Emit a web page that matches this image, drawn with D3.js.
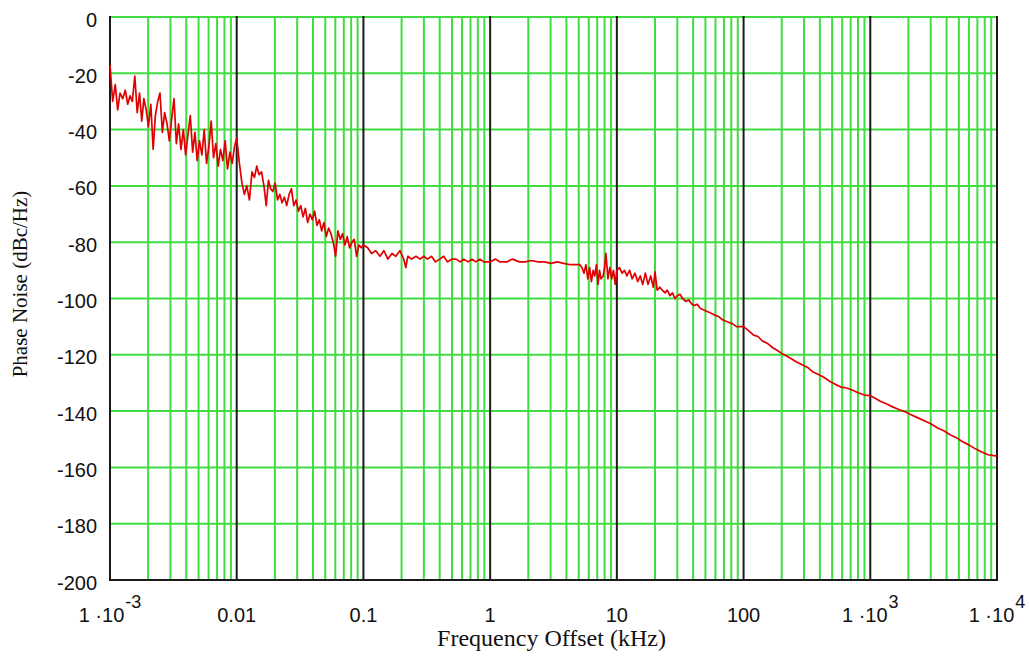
<!DOCTYPE html>
<html>
<head>
<meta charset="utf-8">
<script src="https://cdn.jsdelivr.net/npm/d3@7"></script>
<style>
  html, body { margin: 0; padding: 0; background: #ffffff; }
  svg { display: block; }
</style>
</head>
<body>
<svg id="chart" width="1029" height="656"></svg>
<script>
// ---------------- data ----------------
const freqKHz = [
  0.001, 0.00105, 0.0011, 0.00115, 0.0012, 0.00126, 0.00132, 0.00138, 0.00144, 0.0015,
  0.00157, 0.00164, 0.00171, 0.00178, 0.00185, 0.00193, 0.00201, 0.0021, 0.00219, 0.00228,
  0.00238, 0.00248, 0.00259, 0.0027, 0.00282, 0.00294, 0.00307, 0.0032, 0.00334, 0.00348,
  0.00363, 0.00379, 0.00395, 0.00412, 0.0043, 0.00449, 0.00468, 0.00488, 0.00509, 0.00531,
  0.00554, 0.00578, 0.00603, 0.00629, 0.00656, 0.00684, 0.00714, 0.00745, 0.00777, 0.00811,
  0.00846, 0.00883, 0.00921, 0.00961,
  0.01, 0.0105, 0.011, 0.0115, 0.012, 0.0126, 0.0132, 0.0138, 0.0144, 0.015,
  0.0157, 0.0164, 0.0171, 0.0178, 0.0185, 0.0193, 0.0201, 0.021, 0.0219, 0.0228,
  0.0238, 0.0248, 0.0259, 0.027, 0.0282, 0.0294, 0.0307, 0.032, 0.0334, 0.0348,
  0.0363, 0.0379, 0.0395, 0.0412, 0.043, 0.0449, 0.0468, 0.0488, 0.0509, 0.0531,
  0.0554, 0.0578, 0.0603, 0.0629, 0.0656, 0.0684, 0.0714, 0.0745, 0.0777, 0.0811,
  0.0846, 0.0883, 0.0921, 0.0961,
  0.1, 0.108, 0.116, 0.125, 0.135, 0.145, 0.156, 0.168, 0.18, 0.194,
  0.208, 0.216, 0.224, 0.24, 0.26, 0.28, 0.3, 0.32, 0.345, 0.37,
  0.4, 0.43, 0.46, 0.5, 0.54, 0.58, 0.62, 0.67, 0.72, 0.77,
  0.83, 0.89, 0.95,
  1, 1.1, 1.2, 1.35, 1.5, 1.7, 1.9, 2.1, 2.4, 2.7,
  3.0, 3.4, 3.8, 4.3, 4.8, 5.1, 5.3, 5.5, 5.7, 5.9,
  6.1, 6.3, 6.5, 6.7, 6.9, 7.1, 7.3, 7.5, 7.8, 8.0,
  8.2, 8.5, 8.8, 9.1, 9.4, 9.7,
  10, 10.5, 11, 11.5, 12, 12.6, 13.2, 13.9, 14.6, 15.3,
  16, 16.8, 17.6, 18.5, 19.4, 20, 20.8, 21.8, 22.8, 24,
  25, 26.2, 27.5, 28.7, 30, 31.5, 33, 35, 37, 39,
  41, 43, 45.5, 48, 51, 54, 57, 60, 64, 68,
  72, 77, 82, 88, 94,
  100, 110, 120, 130, 140, 155, 170, 185, 200, 220,
  240, 260, 290, 320, 350, 390, 430, 480, 530, 590,
  650, 720, 800, 900,
  1000, 1100, 1200, 1350, 1500, 1700, 1900, 2100, 2400, 2700,
  3000, 3400, 3800, 4300, 4800, 5400, 6000, 6800, 7600, 8500,
  10000
];

const phaseNoise = [
  -17, -30, -24, -33, -27, -29, -26, -31, -28, -30,
  -21, -34, -27, -37, -29, -33, -39, -31, -47, -35,
  -30, -27, -41, -34, -38, -44, -36, -29, -45, -38,
  -47, -40, -49, -42, -35, -48, -41, -51, -44, -49,
  -40, -52, -46, -37, -50, -45, -53, -47, -51, -44,
  -54, -48, -52, -46,
  -43, -52, -59, -63, -60, -65, -55, -57, -53, -56,
  -55, -60, -67, -58, -61, -62, -59, -65, -63, -66,
  -64, -67, -63, -61, -67, -65, -69, -67, -71, -68,
  -73, -70, -72, -69, -74, -72, -76, -73, -78, -75,
  -77, -80, -85, -76, -79, -77, -81, -78, -82, -80,
  -79, -85, -81, -82,
  -81, -82, -84, -83, -85, -83, -86, -84, -85, -83,
  -86, -89, -85, -86, -85, -86, -85, -86, -85, -87,
  -86, -85, -87, -86, -86, -87, -86, -87, -86, -87,
  -86, -87, -87,
  -87, -86, -87, -87, -86, -87, -87, -86.5, -87, -87,
  -87.5, -87, -87.5, -88, -88, -88, -89, -91, -88, -93,
  -89, -94, -90, -92, -88, -95, -90, -93, -92, -89,
  -84, -93, -89, -93, -90, -95,
  -90, -89, -91, -90, -92, -90, -93, -91, -94, -92,
  -95, -91, -95, -92, -96, -90.5, -97, -96, -97, -98,
  -97, -99, -98, -100, -99, -98.5, -100, -101, -100.5, -102,
  -102.5, -102, -103.5, -104, -104.5, -105, -105.5, -106, -106.5, -107.5,
  -108, -108.5, -109, -110, -110,
  -110, -111.5, -113, -113.5, -115, -116, -117.5, -118.5, -119.5, -120.5,
  -121.5, -122.5, -123.5, -124.5, -126, -127, -128, -129.5, -130.5, -131.5,
  -131.8, -132.5, -133.5, -134.3,
  -134.5, -135.5, -136.5, -137.5, -138.5, -139.5, -140.3, -141.3, -142.5, -143.5,
  -144.5, -146, -147, -148.5, -149.5, -151, -152, -153.5, -154.5, -155.5,
  -156
];

const yTickValues = [0, -20, -40, -60, -80, -100, -120, -140, -160, -180, -200];
const xTickValues = [0.001, 0.01, 0.1, 1, 10, 100, 1000, 10000];
const xTickText   = ["1 \u00B710", "0.01", "0.1", "1", "10", "100", "1 \u00B710", "1 \u00B710"];
const xTickExp    = ["-3", "", "", "", "", "", "3", "4"];
const xTitle = "Frequency Offset (kHz)";
const yTitle = "Phase Noise (dBc/Hz)";

// ---------------- layout ----------------
const pLeft = 110, pRight = 997, pTop = 17, pBottom = 580;
const GREEN = "#40dc40";
const BLACK = "#1a1a1a";

const svg = d3.select("#chart");
const x = d3.scaleLog().domain([1e-3, 1e4]).range([pLeft, pRight]);
const y = d3.scaleLinear().domain([-200, 0]).range([pBottom, pTop]);

// minor vertical grid (2..9 per decade)
const minorX = [];
xTickValues.slice(0, -1).forEach(d => { for (let m = 2; m <= 9; m++) minorX.push(d * m); });

const grid = svg.append("g");
grid.selectAll("line.vminor").data(minorX).join("line")
  .attr("x1", d => x(d)).attr("x2", d => x(d))
  .attr("y1", pTop).attr("y2", pBottom)
  .attr("stroke", GREEN).attr("stroke-width", 2);

grid.selectAll("line.h").data(yTickValues.filter(v => v !== -200)).join("line")
  .attr("x1", pLeft).attr("x2", pRight)
  .attr("y1", d => y(d)).attr("y2", d => y(d))
  .attr("stroke", GREEN).attr("stroke-width", 2);

// decade lines + bottom border (black)
const major = svg.append("g");
major.selectAll("line").data(xTickValues).join("line")
  .attr("x1", d => x(d)).attr("x2", d => x(d))
  .attr("y1", pTop - 1).attr("y2", pBottom + 1)
  .attr("stroke", BLACK).attr("stroke-width", 2);
major.append("line")
  .attr("x1", pLeft - 1).attr("x2", pRight + 1)
  .attr("y1", y(-200)).attr("y2", y(-200))
  .attr("stroke", BLACK).attr("stroke-width", 2);

// data line
const pts = freqKHz.map((f, i) => [f, phaseNoise[i]]);
svg.append("path")
  .datum(pts)
  .attr("fill", "none")
  .attr("stroke", "#e00000")
  .attr("stroke-width", 1.7)
  .attr("stroke-linejoin", "round")
  .attr("d", d3.line().x(d => x(d[0])).y(d => y(d[1])));

// y tick labels
const yAxis = svg.append("g")
  .attr("transform", `translate(${pLeft},0)`)
  .call(d3.axisLeft(y).tickValues(yTickValues).tickSize(0).tickPadding(13).tickFormat(d => String(d)));
yAxis.select(".domain").remove();
yAxis.selectAll("text")
  .attr("font-family", "'Liberation Sans', Arial, sans-serif")
  .attr("font-size", 20)
  .attr("fill", "#111")
  .attr("dy", "0.45em");

// x tick labels with superscripts
const xl = svg.append("g").selectAll("text").data(xTickValues).join("text")
  .attr("x", d => x(d))
  .attr("y", 622)
  .attr("text-anchor", "middle")
  .attr("font-family", "'Liberation Sans', Arial, sans-serif")
  .attr("font-size", 20)
  .attr("fill", "#111");
xl.each(function(d, i) {
  const t = d3.select(this);
  t.append("tspan").text(xTickText[i]);
  if (xTickExp[i]) {
    t.append("tspan").attr("dy", -14).attr("dx", 1).attr("font-size", 18).text(xTickExp[i]);
  }
});

// axis titles
svg.append("text")
  .attr("x", (pLeft + pRight) / 2 - 2)
  .attr("y", 646)
  .attr("text-anchor", "middle")
  .attr("font-family", "'Liberation Serif', 'Times New Roman', serif")
  .attr("font-size", 24)
  .attr("fill", "#111")
  .text(xTitle);

svg.append("text")
  .attr("transform", "translate(27,284) rotate(-90)")
  .attr("text-anchor", "middle")
  .attr("font-family", "'Liberation Serif', 'Times New Roman', serif")
  .attr("font-size", 21)
  .attr("fill", "#111")
  .text(yTitle);
</script>
</body>
</html>
